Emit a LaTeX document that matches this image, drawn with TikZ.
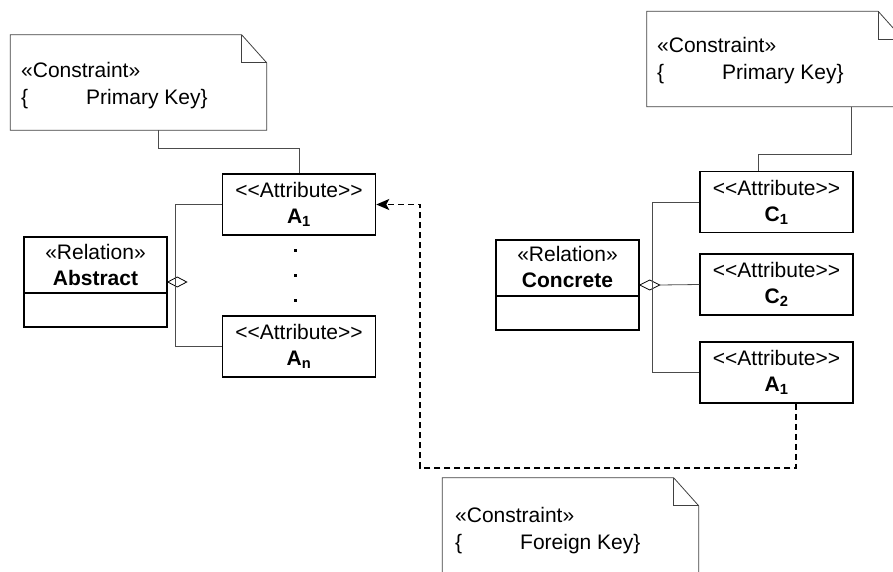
\documentclass[tikz,border=0pt]{standalone}
\usepackage{fontspec}
\setmainfont{Liberation Sans}
\usetikzlibrary{arrows.meta}
\begin{document}
\begin{tikzpicture}[x=1pt,y=-1pt,
  txt/.style={font=\fontsize{21}{26}\selectfont, inner sep=0pt, align=center},
  notetxt/.style={font=\fontsize{21}{27}\selectfont, inner sep=0pt, align=left, anchor=north west},
  attrbox/.style={draw, line width=1.5pt, minimum width=153pt, minimum height=61pt,
    inner sep=0pt, align=center, font=\fontsize{21}{26}\selectfont},
  relbox/.style={draw, line width=1.5pt, minimum width=143pt, minimum height=90pt, inner sep=0pt},
  notebox/.style={minimum width=256pt, minimum height=95pt, inner sep=0pt},
  noteline/.style={draw=black!75, line width=0.8pt},
  link/.style={draw=black!70, line width=0.8pt},
  fk/.style={line width=1.3pt, dash pattern=on 6pt off 4pt},
  agg/.style={draw, line width=0.8pt, fill=none},
]
\clip (0,0) rectangle (893,572);
\useasboundingbox (0,0) rectangle (893,572);

% folded-corner constraint notes
\newcommand{\foldnote}[1]{%
  \draw[noteline] (#1.south west) -- (#1.north west) -- ([xshift=-25pt]#1.north east)
    -- ([yshift=-28pt]#1.north east) -- (#1.south east) -- cycle;
  \draw[noteline] ([xshift=-25pt]#1.north east) |- ([yshift=-28pt]#1.north east);}

\node[notebox] (pkL) at (138.5,82.5) {};
\foldnote{pkL}
\node[notetxt] (pkLt) at (21,62) {«Constraint»\\\{\hspace{58pt}Primary Key\}};

\node[notebox] (pkR) at (775,59) {};
\foldnote{pkR}
\node[notetxt] (pkRt) at (657,37) {«Constraint»\\\{\hspace{58pt}Primary Key\}};

\node[notebox] (fkN) at (570.5,525.5) {};
\foldnote{fkN}
\node[notetxt] (fkNt) at (455,507) {«Constraint»\\\{\hspace{58pt}Foreign Key\}};

% relations
\node[relbox] (abs) at (95.5,282) {};
\draw[line width=1.5pt] (abs.west |- 0,293) -- (abs.east |- 0,293);
\node[txt] (abst) at (95.5,264.5) {«Relation»\\\textbf{Abstract}};

\node[relbox] (con) at (567.5,285) {};
\draw[line width=1.5pt] (con.west |- 0,296) -- (con.east |- 0,296);
\node[txt] (cont) at (567.5,267) {«Relation»\\\textbf{Concrete}};

% attributes
\node[attrbox] (a1) at (299,204.5) {<{}<Attribute>{}>\\\textbf{A}\textsubscript{\textbf{1}}};
\node[attrbox] (an) at (299,346.5) {<{}<Attribute>{}>\\\textbf{A}\textsubscript{\textbf{n}}};
\node[attrbox] (c1) at (776.5,202) {<{}<Attribute>{}>\\\textbf{C}\textsubscript{\textbf{1}}};
\node[attrbox] (c2) at (776.5,284.5) {<{}<Attribute>{}>\\\textbf{C}\textsubscript{\textbf{2}}};
\node[attrbox] (a1r) at (776.5,372.5) {<{}<Attribute>{}>\\\textbf{A}\textsubscript{\textbf{1}}};

% ellipsis between A1 and An
\foreach \yy [count=\i] in {250,275,300}
  \node[fill, inner sep=0pt, minimum size=3pt] (dot\i) at (295,\yy) {};

% note anchors
\draw[link] ([xshift=148pt]pkL.south west) -- ++(0,18) -| (a1.north);
\draw[link] ([xshift=205pt]pkR.south west) -- ++(0,48) -| ([xshift=-18.5pt]c1.north);

% aggregation: Abstract
\coordinate (dA) at (abs.east);
\draw[agg] (dA) -- ++(9.5,-5) -- ++(9.5,5) -- ++(-9.5,5) -- cycle;
\draw[link] (a1.west) -| (175,0 |- an.west) -- (an.west);

% aggregation: Concrete
\coordinate (dC) at (con.east);
\draw[agg] (dC) -- ++(10,-5) -- ++(10,5) -- ++(-10,5) -- cycle;
\draw[link] (c1.west) -| (652,0 |- a1r.west) -- (a1r.west);
\draw[link] ([xshift=20pt]dC) -- (c2.west);

% foreign key reference
\coordinate (fkc) at (796,468);
\draw[fk, -{Stealth[length=13pt,width=11pt,inset=3pt]}]
  ([xshift=19.5pt]a1r.south) -- (fkc) -| (420,250) |- (a1.east);
\end{tikzpicture}
\end{document}
